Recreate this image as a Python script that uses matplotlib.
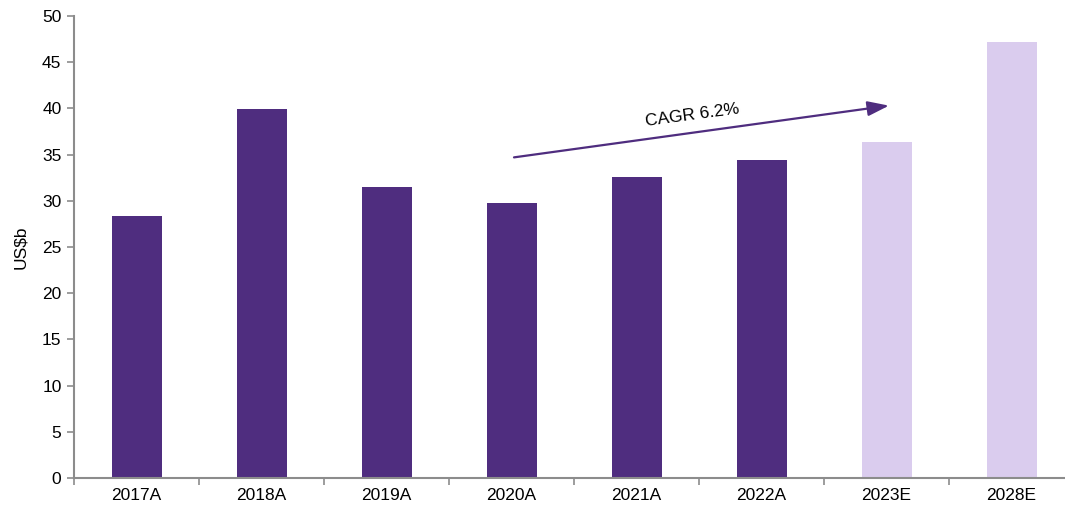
import numpy as np
import matplotlib.pyplot as plt

years = ["2017A", "2018A", "2019A", "2020A", "2021A", "2022A", "2023E", "2028E"]
values = [28.4, 39.9, 31.5, 29.8, 32.6, 34.4, 36.4, 47.2]
is_estimate = [False, False, False, False, False, False, True, True]

dark = "#4F2D7F"
light = "#DACCEE"
axis_grey = "#8C8C8C"

plt.rcParams["font.family"] = ["Liberation Sans", "DejaVu Sans"]

fig = plt.figure(figsize=(10.65, 5.16), dpi=100)
ax = fig.add_axes([74 / 1065, 38 / 516, 1000 / 1065, 462 / 516])

x = np.arange(len(years))
colors = [light if e else dark for e in is_estimate]
ax.bar(x, values, width=0.4, color=colors)

ax.set_xlim(-0.5, len(years) - 0.5)
ax.set_ylim(0, 50)
ax.set_yticks(range(0, 51, 5))
ax.set_xticks(x)
ax.set_xticklabels(years)
ax.set_xticks(np.arange(-0.5, len(years), 1), minor=True)
ax.tick_params(axis="x", which="major", length=0, pad=7, labelsize=12.5)
ax.tick_params(axis="x", which="minor", length=5, color=axis_grey, width=1.2)
ax.tick_params(axis="y", length=5, color=axis_grey, width=1.2, labelsize=12.5, pad=4)

for s in ["top", "right"]:
    ax.spines[s].set_visible(False)
for s in ["left", "bottom"]:
    ax.spines[s].set_color(axis_grey)
    ax.spines[s].set_linewidth(1.5)

ax.set_ylabel("US$b", fontsize=12.5, labelpad=10)

# CAGR arrow
ax.annotate("", xy=(6.02, 40.3), xytext=(3.02, 34.7),
            arrowprops=dict(arrowstyle="-|>,head_length=1.3,head_width=0.45",
                            color=dark, lw=1.6, shrinkA=0, shrinkB=0))
ax.text(4.45, 39.3, "CAGR 6.2%", rotation=7.7, ha="center", va="center",
        fontsize=12.5, rotation_mode="anchor")

fig.savefig("out.png", dpi=100)
